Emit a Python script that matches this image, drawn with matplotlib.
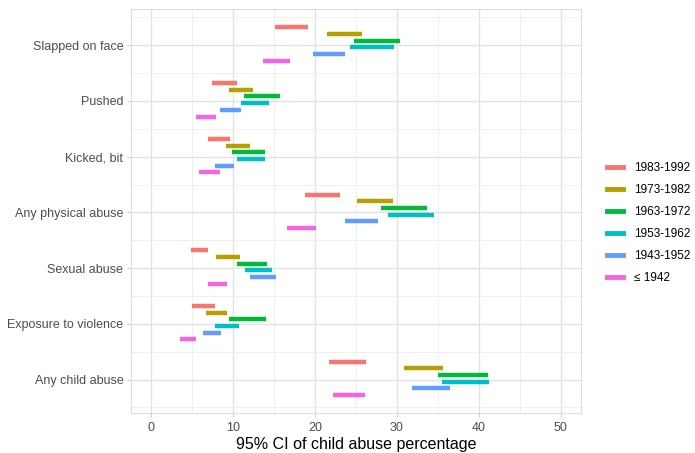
import matplotlib.pyplot as plt
from matplotlib.lines import Line2D

# categories (top to bottom) and birth cohorts
categories = ["Slapped on face", "Pushed", "Kicked, bit", "Any physical abuse",
              "Sexual abuse", "Exposure to violence", "Any child abuse"]
cohorts = ["1983-1992", "1973-1982", "1963-1972", "1953-1962", "1943-1952", "≤ 1942"]
colors = ["#F8766D", "#B79F00", "#00BA38", "#00BFC4", "#619CFF", "#F564E3"]

# 95% CI lower / upper bounds, one list per cohort, in category order
lower = {
    "1983-1992": [15.1, 7.45, 6.85, 18.75, 4.8, 5.0, 21.7],
    "1973-1982": [21.5, 9.45, 9.1, 25.1, 7.9, 6.7, 30.9],
    "1963-1972": [24.8, 11.3, 9.9, 28.1, 10.5, 9.5, 35.0],
    "1953-1962": [24.3, 11.0, 10.5, 28.9, 11.4, 7.8, 35.5],
    "1943-1952": [19.7, 8.4, 7.8, 23.6, 12.0, 6.35, 31.8],
    "≤ 1942":    [13.6, 5.4, 5.75, 16.6, 6.85, 3.5, 22.2],
}
upper = {
    "1983-1992": [19.1, 10.5, 9.65, 23.0, 6.95, 7.8, 26.2],
    "1973-1982": [25.7, 12.4, 12.0, 29.5, 10.8, 9.2, 35.6],
    "1963-1972": [30.4, 15.7, 13.9, 33.7, 14.1, 14.0, 41.1],
    "1953-1962": [29.7, 14.4, 13.9, 34.5, 14.75, 10.7, 41.3],
    "1943-1952": [23.7, 10.95, 10.1, 27.7, 15.2, 8.5, 36.45],
    "≤ 1942":    [16.9, 7.9, 8.4, 20.1, 9.2, 5.4, 26.1],
}

plt.rcParams["font.family"] = ["Liberation Sans", "DejaVu Sans"]

fig = plt.figure(figsize=(6.95, 4.53), dpi=100)
ax = fig.add_axes([131 / 695, 1 - 413 / 453, (581 - 131) / 695, (413 - 9) / 453])

step = 0.12
for i, c in enumerate(cohorts):
    off = (i - 2.5) * step - 0.02
    ys = [k + off for k in range(len(categories))]
    ax.hlines(ys, lower[c], upper[c], color=colors[i], linewidth=3.2, capstyle="butt")

ax.set_xlim(-2.5, 52.5)
ax.set_ylim(len(categories) - 0.4, -0.65)
ax.set_xticks([0, 10, 20, 30, 40, 50])
ax.set_xticks([5, 15, 25, 35, 45], minor=True)
ax.set_yticks(range(len(categories)))
ax.set_yticklabels(categories)
ax.set_yticks([k + 0.5 for k in range(-1, len(categories))], minor=True)

ax.grid(which="major", color="#E3E3E3", linewidth=1.0)
ax.grid(which="minor", color="#EFEFEF", linewidth=0.7)
ax.set_axisbelow(True)
for s in ax.spines.values():
    s.set_color("#DDDDDD")
    s.set_linewidth(0.8)
ax.tick_params(which="major", length=3, color="#CCCCCC", labelcolor="#4D4D4D", labelsize=9)
ax.tick_params(axis="y", pad=2.5)
ax.tick_params(which="minor", length=0)
ax.set_xlabel("95% CI of child abuse percentage", fontsize=11.5, color="black", labelpad=2)

handles = [Line2D([], [], color=colors[i], linewidth=3.5) for i in range(len(cohorts))]
fig.legend(handles, cohorts, loc="center left", bbox_to_anchor=(607 / 695, 1 - 223 / 453),
           frameon=False, fontsize=8.5, handlelength=1.35, handletextpad=0.9,
           labelspacing=0.85, borderaxespad=0, borderpad=0)

fig.savefig("out.png", dpi=100)
